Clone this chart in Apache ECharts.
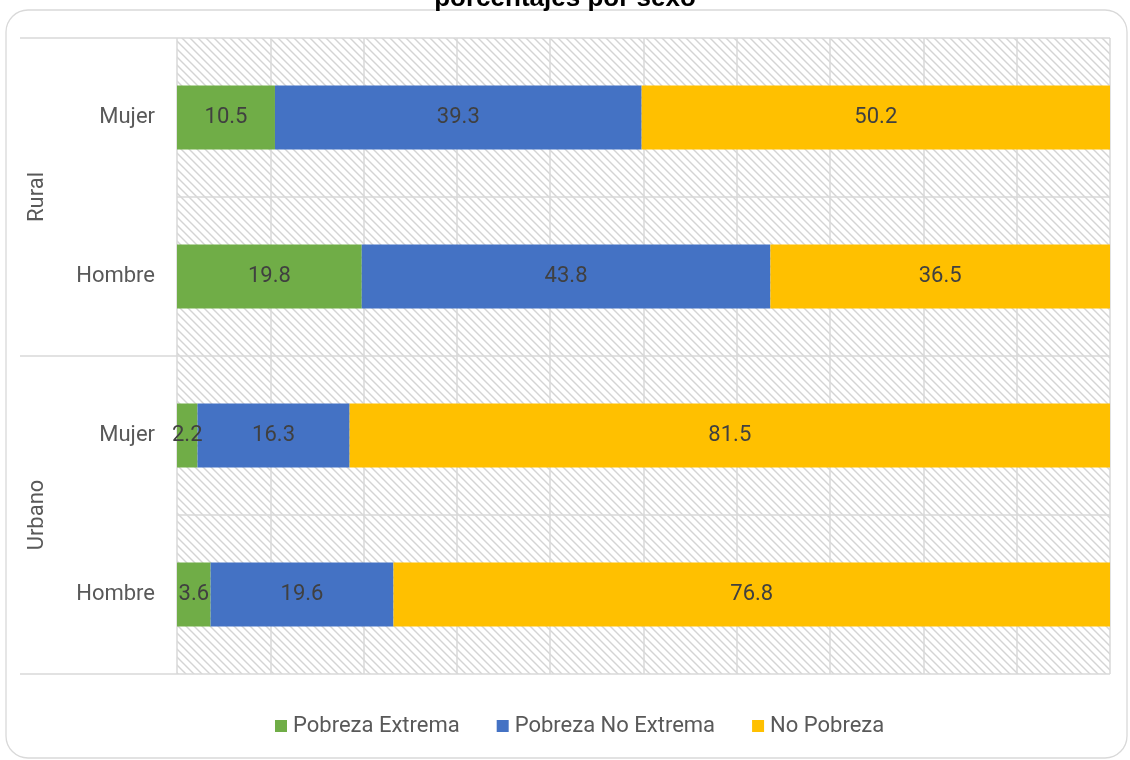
<!DOCTYPE html>
<html><head><meta charset="utf-8">
<script src="https://cdn.jsdelivr.net/npm/echarts@6/dist/echarts.min.js"></script>
<style>html,body{margin:0;padding:0;background:#fff}#c{width:1130px;height:760px}</style>
</head><body><div id="c"></div>
<script>
const categories = ['Mujer', 'Hombre', 'Mujer', 'Hombre'];
const groups = ['Rural', 'Urbano'];
const seriesNames = ['Pobreza Extrema', 'Pobreza No Extrema', 'No Pobreza'];
const pobrezaExtrema = [10.5, 19.8, 2.2, 3.6];
const pobrezaNoExtrema = [39.3, 43.8, 16.3, 19.6];
const noPobreza = [50.2, 36.5, 81.5, 76.8];
const colors = ['#70AD47', '#4472C4', '#FFC000'];

// hatch pattern
const pc = document.createElement('canvas');
pc.width = 8; pc.height = 8;
const g = pc.getContext('2d');
g.fillStyle = '#fff'; g.fillRect(0, 0, 8, 8);
g.strokeStyle = '#d4d4d4'; g.lineWidth = 1.4;
g.beginPath();
g.moveTo(-2, -2); g.lineTo(10, 10);
g.moveTo(-10, -2); g.lineTo(2, 10);
g.moveTo(6, -2); g.lineTo(18, 10);
g.stroke();

const font = 'Roboto, "Liberation Sans", sans-serif';
const chart = echarts.init(document.getElementById('c'), null, {renderer: 'canvas'});
const vals = [pobrezaExtrema, pobrezaNoExtrema, noPobreza];
chart.setOption({
  animation: false,
  title: {
    text: 'porcentajes por sexo', left: 'center', top: -19,
    textStyle: {fontFamily: '"Liberation Sans", Arial, sans-serif', fontWeight: 'bold', fontSize: 26, color: '#000'}
  },
  graphic: [{
    type: 'rect', shape: {x: 6, y: 10, width: 1121, height: 748, r: 22},
    style: {fill: 'none', stroke: '#d9d9d9', lineWidth: 1.3}, z: -1
  }],
  grid: {
    left: 177, right: 20, top: 38, bottom: 86,
    show: true, borderWidth: 0,
    backgroundColor: {image: pc, repeat: 'repeat'}
  },
  legend: {
    bottom: 18, left: 270, itemWidth: 12, itemHeight: 12, itemGap: 37,
    icon: 'rect',
    textStyle: {fontFamily: font, fontSize: 22, color: '#595959', padding: [0, 0, 0, 1]},
    data: seriesNames
  },
  xAxis: {
    type: 'value', min: 0, max: 100, interval: 10,
    axisLabel: {show: false}, axisLine: {show: false}, axisTick: {show: false},
    splitLine: {show: true, lineStyle: {color: '#d9d9d9', width: 1.5}}
  },
  yAxis: [{
    type: 'category', data: categories, inverse: true,
    axisLine: {show: false}, axisTick: {show: false},
    axisLabel: {fontFamily: font, fontSize: 22, color: '#595959', margin: 22},
    splitLine: {show: true, lineStyle: {color: '#d9d9d9', width: 1.5}}
  }, {
    type: 'category', data: groups, inverse: true, position: 'left',
    axisLine: {show: false},
    axisTick: {show: true, length: 157, lineStyle: {color: '#d9d9d9', width: 1.5}},
    axisLabel: {fontFamily: font, fontSize: 22, color: '#595959', rotate: 90, margin: 129}
  }],
  series: vals.map((v, i) => ({
    name: seriesNames[i], type: 'bar', stack: 'total', yAxisIndex: 0,
    data: v, barWidth: 64, itemStyle: {color: colors[i]},
    label: {show: true, position: 'inside', fontFamily: font, fontSize: 22, color: '#404040',
      formatter: p => p.value.toFixed(1)}
  }))
});
</script></body></html>
